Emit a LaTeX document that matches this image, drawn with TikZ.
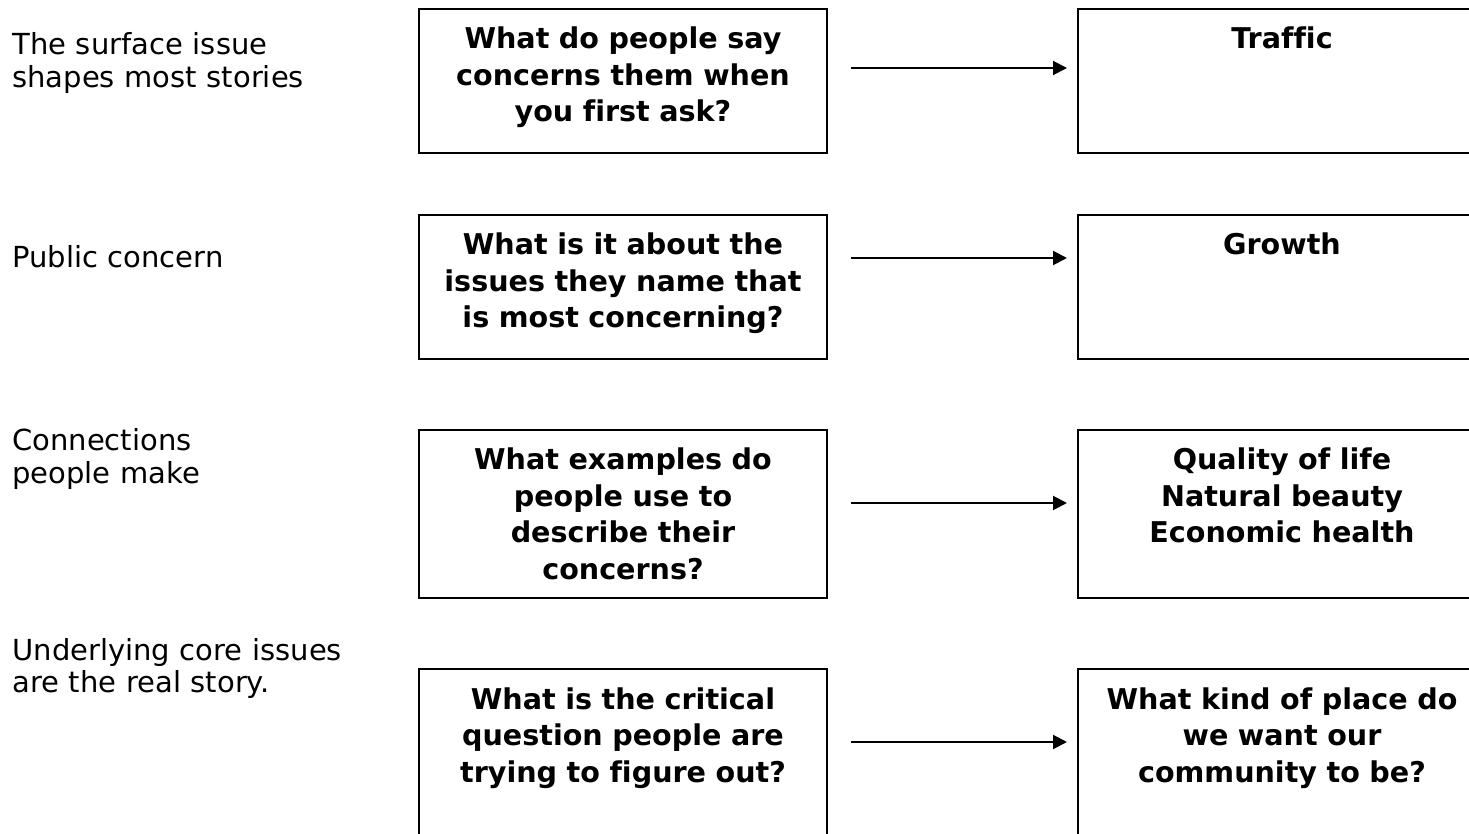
\documentclass[tikz,border=0pt]{standalone}
\usepackage{fontspec}
\setmainfont{DejaVu Sans}[Ligatures=NoCommon]
\usetikzlibrary{arrows.meta}
\tikzset{
  qbox/.style={draw,line width=1pt,inner sep=0pt,text width=200pt,minimum width=204pt,align=center,
    font=\bfseries\fontsize{14.3}{18.25}\selectfont,text height=20pt,anchor=north},
  side/.style={inner sep=0pt,text width=170pt,align=left,anchor=base west,
    font=\fontsize{14.5}{16.5}\selectfont},
  link/.style={line width=1pt,-{Triangle[length=7pt,width=7pt]},shorten <=11.5pt,shorten >=5pt}
}
\begin{document}
\begin{tikzpicture}[x=0.5pt,y=-0.5pt]
	\clip (0,0) rectangle (1469,834);
	% labels on the left
	\node[side] (s1) at (12,55) {The surface issue\\shapes most stories};
	\node[side] (s2) at (12,268) {Public concern};
	\node[side] (s3) at (12,451) {Connections\\people make};
	\node[side] (s4) at (12,660) {Underlying core issues\\are the real story.};
	% questions
	\node[qbox,text depth=52pt] (q1) at (623,8) {What do people say\\concerns them when\\you first ask?};
	\node[qbox,text depth=52pt] (q2) at (623,214) {What is it about the\\issues they name that\\is most concerning?};
	\node[qbox,text depth=64pt] (q3) at (623,429) {What examples do\\people use to\\describe their\\concerns?};
	\node[qbox,text depth=64pt] (q4) at (623,668) {What is the critical\\question people are\\trying to figure out?};
	% answers
	\node[qbox,text depth=52pt] (a1) at (1282,8) {Traffic};
	\node[qbox,text depth=52pt] (a2) at (1282,214) {Growth};
	\node[qbox,text depth=64pt] (a3) at (1282,429) {Quality of life\\Natural beauty\\Economic health};
	\node[qbox,text depth=64pt] (a4) at (1282,668) {What kind of place do\\we want our\\community to be?};
	\draw[link] (q1.east |- 0,68) -- (a1.west |- 0,68);
	\draw[link] (q2.east |- 0,258) -- (a2.west |- 0,258);
	\draw[link] (q3.east |- 0,503) -- (a3.west |- 0,503);
	\draw[link] (q4.east |- 0,742) -- (a4.west |- 0,742);
\end{tikzpicture}
\end{document}
